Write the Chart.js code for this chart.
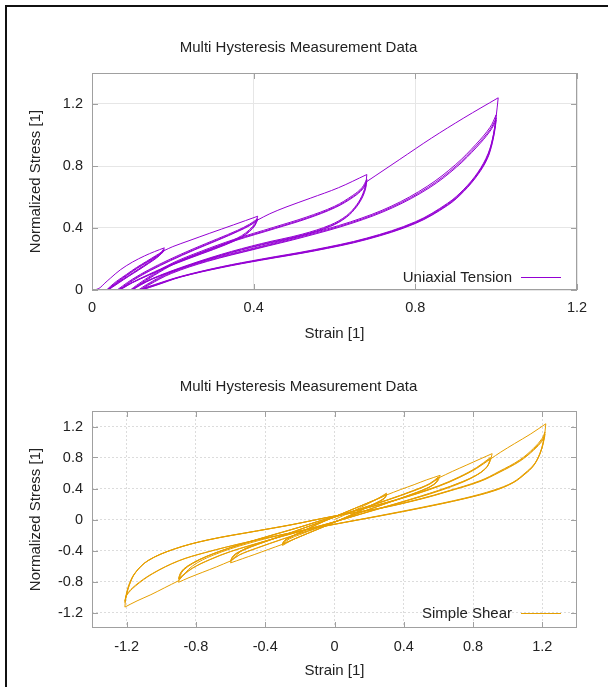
<!DOCTYPE html>
<html>
<head>
<meta charset="utf-8">
<script src="https://cdn.jsdelivr.net/npm/chart.js@4.4.1/dist/chart.umd.min.js"></script>
<style>
  html, body { margin: 0; background: #fff; }
  #wrap { position: relative; width: 608px; height: 687px; overflow: hidden; background: #fff; }
  .edge { position: absolute; background: #111; }
  canvas { position: absolute; left: 0; }
</style>
</head>
<body>
<div id="wrap">
  <div class="edge" style="left:5px;top:5px;width:603px;height:2px"></div>
  <div class="edge" style="left:5px;top:5px;width:2px;height:682px"></div>
  <canvas id="tension" width="608" height="350" style="top:0"></canvas>
  <canvas id="shear" width="608" height="337" style="top:350px"></canvas>
</div>
<script>
// ---- axis ticks ----
const tensionStrainTicks = [0, 0.4, 0.8, 1.2];
const tensionStrainLabels = ['0', '0.4', '0.8', '1.2'];
const tensionStressTicks = [0, 0.4, 0.8, 1.2];
const tensionStressLabels = ['0', '0.4', '0.8', '1.2'];
const shearTicks = [-1.2, -0.8, -0.4, 0, 0.4, 0.8, 1.2];
const shearLabels = ['-1.2', '-0.8', '-0.4', '0', '0.4', '0.8', '1.2'];

// ---- uniaxial tension: [strain, stress] branches, in test order ----
// level 1 (max strain ~0.18): virgin, 3 unload/reload cycles, then envelope to level 2
const tensionLevel1 = [
  [[0,0],[0.01,0.003],[0.02,0.015],[0.03,0.04],[0.045,0.075],[0.07,0.13],[0.1,0.18],[0.13,0.22],[0.155,0.248],[0.179,0.272]],
  [[0.179,0.272],[0.172,0.245],[0.16,0.215],[0.14,0.178],[0.115,0.135],[0.09,0.092],[0.065,0.05],[0.048,0.02],[0.036,0]],
  [[0.036,0],[0.045,0.022],[0.06,0.055],[0.085,0.1],[0.11,0.145],[0.135,0.185],[0.158,0.222],[0.172,0.245],[0.179,0.262]],
  [[0.179,0.262],[0.172,0.238],[0.16,0.21],[0.14,0.174],[0.115,0.131],[0.09,0.089],[0.066,0.048],[0.05,0.02],[0.038,0]],
  [[0.038,0],[0.047,0.021],[0.062,0.053],[0.086,0.097],[0.111,0.142],[0.136,0.182],[0.159,0.219],[0.173,0.242],[0.179,0.258]],
  [[0.179,0.258],[0.172,0.235],[0.16,0.207],[0.14,0.171],[0.115,0.128],[0.09,0.087],[0.067,0.047],[0.051,0.019],[0.04,0]],
  [[0.04,0],[0.049,0.02],[0.064,0.052],[0.087,0.095],[0.112,0.14],[0.137,0.18],[0.16,0.217],[0.174,0.24],[0.18,0.256]],
  [[0.18,0.256],[0.2,0.28],[0.24,0.318],[0.29,0.365],[0.35,0.42],[0.41,0.476]]
];
// level 2 (max strain ~0.41)
const tensionLevel2 = [
  [[0.41,0.476],[0.403,0.43],[0.39,0.39],[0.37,0.35],[0.33,0.3],[0.27,0.24],[0.2,0.17],[0.14,0.1],[0.1,0.05],[0.075,0.015],[0.062,0]],
  [[0.062,0],[0.075,0.025],[0.1,0.07],[0.14,0.13],[0.19,0.195],[0.25,0.265],[0.31,0.33],[0.36,0.385],[0.39,0.425],[0.41,0.46]],
  [[0.41,0.46],[0.403,0.42],[0.39,0.382],[0.37,0.343],[0.33,0.294],[0.27,0.235],[0.2,0.166],[0.14,0.097],[0.1,0.048],[0.077,0.015],[0.065,0]],
  [[0.065,0],[0.078,0.024],[0.102,0.068],[0.142,0.127],[0.192,0.191],[0.252,0.261],[0.312,0.326],[0.361,0.381],[0.391,0.42],[0.41,0.455]],
  [[0.41,0.455],[0.403,0.415],[0.39,0.378],[0.37,0.34],[0.33,0.291],[0.27,0.232],[0.2,0.163],[0.14,0.095],[0.1,0.047],[0.079,0.015],[0.068,0]],
  [[0.068,0],[0.08,0.023],[0.104,0.066],[0.144,0.125],[0.194,0.189],[0.254,0.259],[0.314,0.324],[0.362,0.379],[0.392,0.418],[0.41,0.452]],
  [[0.41,0.452],[0.44,0.492],[0.48,0.535],[0.54,0.592],[0.61,0.66],[0.68,0.745]]
];
// level 3 (max strain ~0.68)
const tensionLevel3 = [
  [[0.68,0.745],[0.677,0.68],[0.67,0.62],[0.655,0.55],[0.63,0.48],[0.59,0.42],[0.52,0.36],[0.42,0.3],[0.32,0.23],[0.22,0.145],[0.15,0.075],[0.115,0.03],[0.095,0]],
  [[0.095,0],[0.11,0.03],[0.15,0.1],[0.2,0.175],[0.27,0.25],[0.35,0.325],[0.45,0.405],[0.53,0.47],[0.6,0.54],[0.645,0.61],[0.668,0.66],[0.68,0.715]],
  [[0.68,0.715],[0.677,0.665],[0.67,0.61],[0.655,0.543],[0.63,0.474],[0.59,0.414],[0.52,0.355],[0.42,0.295],[0.32,0.226],[0.22,0.142],[0.15,0.073],[0.117,0.03],[0.098,0]],
  [[0.098,0],[0.113,0.029],[0.153,0.098],[0.203,0.172],[0.273,0.247],[0.352,0.321],[0.452,0.4],[0.532,0.465],[0.601,0.535],[0.646,0.604],[0.669,0.655],[0.68,0.705]],
  [[0.68,0.705],[0.677,0.655],[0.67,0.603],[0.655,0.538],[0.63,0.47],[0.59,0.41],[0.52,0.351],[0.42,0.291],[0.32,0.223],[0.22,0.14],[0.15,0.071],[0.119,0.03],[0.1,0]],
  [[0.1,0],[0.115,0.028],[0.155,0.096],[0.205,0.17],[0.275,0.245],[0.354,0.318],[0.454,0.397],[0.534,0.462],[0.602,0.532],[0.647,0.6],[0.67,0.652],[0.68,0.7]],
  [[0.68,0.7],[0.76,0.84],[0.84,0.98],[0.92,1.11],[1.005,1.24]]
];
// level 4 (max strain ~1.0)
const tensionLevel4 = [
  [[1.005,1.24],[1.0,1.12],[0.993,1.0],[0.98,0.88],[0.955,0.76],[0.92,0.65],[0.88,0.56],[0.8,0.44],[0.68,0.335],[0.55,0.26],[0.42,0.2],[0.32,0.15],[0.22,0.088],[0.155,0.035],[0.115,0]],
  [[0.115,0],[0.135,0.035],[0.19,0.11],[0.28,0.19],[0.4,0.27],[0.52,0.35],[0.64,0.44],[0.74,0.54],[0.83,0.67],[0.9,0.81],[0.95,0.94],[0.985,1.05],[1.0,1.13]],
  [[1.0,1.13],[0.997,1.06],[0.99,0.96],[0.978,0.86],[0.955,0.755],[0.92,0.645],[0.88,0.555],[0.8,0.436],[0.68,0.332],[0.55,0.257],[0.42,0.197],[0.32,0.148],[0.22,0.086],[0.157,0.034],[0.118,0]],
  [[0.118,0],[0.138,0.034],[0.193,0.108],[0.283,0.187],[0.403,0.267],[0.523,0.346],[0.643,0.436],[0.742,0.535],[0.832,0.663],[0.901,0.8],[0.951,0.93],[0.985,1.035],[1.0,1.11]],
  [[1.0,1.11],[0.997,1.045],[0.99,0.95],[0.978,0.852],[0.955,0.75],[0.92,0.64],[0.88,0.55],[0.8,0.432],[0.68,0.329],[0.55,0.254],[0.42,0.195],[0.32,0.146],[0.22,0.085],[0.159,0.033],[0.121,0]],
  [[0.121,0],[0.141,0.033],[0.196,0.106],[0.286,0.185],[0.406,0.265],[0.526,0.343],[0.646,0.433],[0.744,0.531],[0.834,0.658],[0.902,0.793],[0.952,0.922],[0.985,1.025],[1.0,1.095]],
  [[1.0,1.095],[0.997,1.035],[0.99,0.943],[0.978,0.846],[0.955,0.745],[0.92,0.636],[0.88,0.546],[0.8,0.429],[0.68,0.326],[0.55,0.252],[0.42,0.193],[0.32,0.144],[0.22,0.084],[0.161,0.032],[0.123,0]]
];

// ---- simple shear: [strain, stress] branches, in test order ----
// level 1 (±0.3)
const shearLevel1 = [
  [[0,0],[0.05,0.05],[0.1,0.1],[0.15,0.155],[0.2,0.21],[0.25,0.27],[0.3,0.34]],
  [[0.3,0.34],[0.295,0.3],[0.28,0.265],[0.24,0.215],[0.18,0.15],[0.1,0.065],[0.02,-0.015],[-0.06,-0.09],[-0.14,-0.165],[-0.2,-0.222],[-0.25,-0.272],[-0.3,-0.335]],
  [[-0.3,-0.335],[-0.295,-0.3],[-0.28,-0.265],[-0.24,-0.215],[-0.18,-0.15],[-0.1,-0.065],[-0.02,0.015],[0.06,0.09],[0.14,0.165],[0.2,0.222],[0.25,0.27],[0.3,0.325]],
  [[0.3,0.325],[0.295,0.292],[0.28,0.26],[0.24,0.212],[0.18,0.148],[0.1,0.063],[0.02,-0.017],[-0.06,-0.092],[-0.14,-0.166],[-0.2,-0.222],[-0.25,-0.27],[-0.3,-0.322]],
  [[-0.3,-0.322],[-0.295,-0.29],[-0.28,-0.258],[-0.24,-0.21],[-0.18,-0.146],[-0.1,-0.062],[-0.02,0.017],[0.06,0.091],[0.14,0.165],[0.2,0.221],[0.25,0.267],[0.3,0.32]],
  [[0.3,0.32],[0.295,0.288],[0.28,0.257],[0.24,0.21],[0.18,0.146],[0.1,0.061],[0.02,-0.018],[-0.06,-0.093],[-0.14,-0.166],[-0.2,-0.221],[-0.25,-0.268],[-0.3,-0.318]],
  [[-0.3,-0.318],[-0.295,-0.287],[-0.28,-0.256],[-0.24,-0.208],[-0.18,-0.145],[-0.1,-0.061],[-0.02,0.017],[0.06,0.09],[0.14,0.164],[0.2,0.219],[0.25,0.265],[0.3,0.316]],
  [[0.3,0.316],[0.38,0.385],[0.46,0.45],[0.53,0.51],[0.61,0.57]]
];
// level 2 (±0.6)
const shearLevel2 = [
  [[0.61,0.57],[0.6,0.51],[0.58,0.46],[0.53,0.4],[0.45,0.33],[0.3,0.21],[0.15,0.09],[0,-0.03],[-0.1,-0.11],[-0.2,-0.195],[-0.26,-0.25],[-0.3,-0.32]],
  [[-0.3,-0.32],[-0.38,-0.385],[-0.46,-0.45],[-0.53,-0.505],[-0.6,-0.56]],
  [[-0.6,-0.56],[-0.59,-0.5],[-0.57,-0.45],[-0.52,-0.39],[-0.44,-0.32],[-0.3,-0.21],[-0.15,-0.09],[0,0.03],[0.15,0.14],[0.3,0.25],[0.45,0.37],[0.55,0.465],[0.6,0.55]],
  [[0.6,0.55],[0.59,0.495],[0.57,0.45],[0.52,0.39],[0.44,0.32],[0.3,0.21],[0.15,0.092],[0,-0.032],[-0.15,-0.145],[-0.3,-0.255],[-0.45,-0.372],[-0.55,-0.46],[-0.6,-0.54]],
  [[-0.6,-0.54],[-0.59,-0.488],[-0.57,-0.443],[-0.52,-0.385],[-0.44,-0.317],[-0.3,-0.208],[-0.15,-0.089],[0,0.03],[0.15,0.138],[0.3,0.247],[0.45,0.366],[0.55,0.46],[0.6,0.54]],
  [[0.6,0.54],[0.59,0.488],[0.57,0.444],[0.52,0.386],[0.44,0.317],[0.3,0.208],[0.15,0.09],[0,-0.031],[-0.15,-0.143],[-0.3,-0.252],[-0.45,-0.368],[-0.55,-0.456],[-0.6,-0.535]],
  [[-0.6,-0.535],[-0.59,-0.485],[-0.57,-0.44],[-0.52,-0.383],[-0.44,-0.315],[-0.3,-0.207],[-0.15,-0.088],[0,0.029],[0.15,0.137],[0.3,0.245],[0.45,0.363],[0.55,0.456],[0.6,0.535]],
  [[0.6,0.535],[0.68,0.62],[0.76,0.7],[0.84,0.78],[0.91,0.85]]
];
// level 3 (±0.9)
const shearLevel3 = [
  [[0.91,0.85],[0.9,0.76],[0.88,0.68],[0.84,0.6],[0.76,0.5],[0.6,0.365],[0.4,0.23],[0.2,0.1],[0,-0.03],[-0.2,-0.15],[-0.4,-0.28],[-0.52,-0.38],[-0.6,-0.535]],
  [[-0.6,-0.535],[-0.68,-0.61],[-0.76,-0.68],[-0.84,-0.75],[-0.9,-0.81]],
  [[-0.9,-0.81],[-0.89,-0.72],[-0.87,-0.65],[-0.82,-0.57],[-0.74,-0.48],[-0.6,-0.365],[-0.4,-0.23],[-0.2,-0.1],[0,0.04],[0.2,0.16],[0.4,0.285],[0.6,0.435],[0.72,0.55],[0.82,0.67],[0.9,0.8]],
  [[0.9,0.8],[0.89,0.72],[0.87,0.655],[0.82,0.575],[0.74,0.49],[0.6,0.375],[0.4,0.235],[0.2,0.105],[0,-0.03],[-0.2,-0.155],[-0.4,-0.28],[-0.6,-0.415],[-0.72,-0.52],[-0.82,-0.63],[-0.9,-0.77]],
  [[-0.9,-0.77],[-0.89,-0.7],[-0.87,-0.64],[-0.82,-0.565],[-0.74,-0.478],[-0.6,-0.363],[-0.4,-0.228],[-0.2,-0.098],[0,0.04],[0.2,0.158],[0.4,0.282],[0.6,0.43],[0.72,0.545],[0.82,0.664],[0.9,0.79]],
  [[0.9,0.79],[0.89,0.713],[0.87,0.65],[0.82,0.571],[0.74,0.487],[0.6,0.372],[0.4,0.233],[0.2,0.103],[0,-0.031],[-0.2,-0.154],[-0.4,-0.278],[-0.6,-0.412],[-0.72,-0.516],[-0.82,-0.626],[-0.9,-0.76]],
  [[-0.9,-0.76],[-0.89,-0.694],[-0.87,-0.636],[-0.82,-0.562],[-0.74,-0.476],[-0.6,-0.361],[-0.4,-0.226],[-0.2,-0.097],[0,0.039],[0.2,0.156],[0.4,0.279],[0.6,0.426],[0.72,0.54],[0.82,0.658],[0.9,0.78]],
  [[0.9,0.78],[0.96,0.87],[1.04,0.98],[1.13,1.1],[1.22,1.235]]
];
// level 4 (±1.2)
const shearLevel4 = [
  [[1.22,1.235],[1.21,1.05],[1.19,0.87],[1.155,0.72],[1.1,0.6],[1.03,0.48],[0.92,0.38],[0.75,0.275],[0.5,0.155],[0.25,0.045],[0,-0.06],[-0.25,-0.17],[-0.5,-0.31],[-0.7,-0.46],[-0.82,-0.6],[-0.9,-0.79]],
  [[-0.9,-0.79],[-0.98,-0.88],[-1.06,-0.97],[-1.14,-1.05],[-1.21,-1.13]],
  [[-1.21,-1.13],[-1.205,-1.0],[-1.19,-0.86],[-1.155,-0.7],[-1.08,-0.535],[-0.93,-0.385],[-0.73,-0.265],[-0.45,-0.15],[-0.25,-0.07],[0,0.045],[0.27,0.15],[0.5,0.27],[0.65,0.365],[0.84,0.5],[0.95,0.62],[1.07,0.77],[1.15,0.92],[1.2,1.05],[1.215,1.13]],
  [[1.215,1.13],[1.205,1.0],[1.185,0.85],[1.15,0.7],[1.1,0.59],[1.03,0.475],[0.92,0.372],[0.75,0.27],[0.5,0.15],[0.25,0.042],[0,-0.062],[-0.25,-0.172],[-0.5,-0.29],[-0.75,-0.43],[-0.9,-0.535],[-1.05,-0.7],[-1.15,-0.86],[-1.2,-0.98],[-1.21,-1.07]],
  [[-1.21,-1.07],[-1.2,-0.97],[-1.185,-0.85],[-1.15,-0.69],[-1.075,-0.53],[-0.925,-0.382],[-0.73,-0.263],[-0.45,-0.148],[-0.25,-0.068],[0,0.045],[0.27,0.148],[0.5,0.267],[0.65,0.361],[0.84,0.495],[0.95,0.612],[1.07,0.76],[1.15,0.905],[1.2,1.03],[1.215,1.1]],
  [[1.215,1.1],[1.205,0.98],[1.185,0.84],[1.15,0.695],[1.1,0.586],[1.03,0.472],[0.92,0.369],[0.75,0.268],[0.5,0.148],[0.25,0.04],[0,-0.063],[-0.25,-0.172],[-0.5,-0.289],[-0.75,-0.428],[-0.9,-0.532],[-1.05,-0.695],[-1.15,-0.85],[-1.2,-0.97],[-1.21,-1.05]],
  [[-1.21,-1.05],[-1.2,-0.96],[-1.185,-0.845],[-1.15,-0.686],[-1.075,-0.527],[-0.925,-0.38],[-0.73,-0.262],[-0.45,-0.147],[-0.25,-0.067],[0,0.044],[0.27,0.146],[0.5,0.264],[0.65,0.358],[0.84,0.49],[0.95,0.606],[1.07,0.752],[1.15,0.895],[1.2,1.015],[1.215,1.08]]
];

const FONT = '"Liberation Sans", Arial, Helvetica, sans-serif';
const TEXT = '#222';
const PURPLE = '#9400D3';
const ORANGE = '#E69F00';

// gnuplot-like frame: full border, inward ticks on all sides, legend inside bottom-right
function framePlugin(label, swatch, legendOffset) {
  return {
    id: 'plotFrame',
    afterDatasetsDraw(chart) {
      const { ctx, chartArea: a, scales: { x, y } } = chart;
      ctx.save();
      ctx.strokeStyle = '#a0a0a0';
      ctx.lineWidth = 1;
      ctx.strokeRect(a.left + 0.5, a.top + 0.5, a.width - 1, a.height - 1);
      ctx.beginPath();
      x.ticks.forEach(t => {
        const px = Math.round(x.getPixelForValue(t.value)) + 0.5;
        ctx.moveTo(px, a.bottom); ctx.lineTo(px, a.bottom - 6);
        ctx.moveTo(px, a.top); ctx.lineTo(px, a.top + 6);
      });
      y.ticks.forEach(t => {
        const py = Math.round(y.getPixelForValue(t.value)) + 0.5;
        ctx.moveTo(a.left, py); ctx.lineTo(a.left + 6, py);
        ctx.moveTo(a.right, py); ctx.lineTo(a.right - 6, py);
      });
      ctx.stroke();

      const ly = Math.round(a.bottom - legendOffset);
      ctx.font = '15px ' + FONT;
      ctx.fillStyle = TEXT;
      ctx.textAlign = 'right';
      ctx.textBaseline = 'middle';
      ctx.fillText(label, a.right - 65, ly + 0.5);
      ctx.fillStyle = swatch;
      ctx.fillRect(a.right - 56, ly, 40, 1);
      ctx.restore();
    }
  };
}

function toDatasets(levels, color) {
  return levels.flat().map(branch => ({
    data: branch.map(([x, y]) => ({ x, y })),
    borderColor: color,
    borderWidth: 1,
    pointRadius: 0,
    showLine: true,
    fill: false,
    tension: 0.35
  }));
}

function axis(o) {
  return {
    type: 'linear',
    min: o.min,
    max: o.max,
    afterBuildTicks: s => { s.ticks = o.ticks.map(v => ({ value: v })); },
    afterFit: o.fit,
    grid: { color: o.gridColor, drawTicks: false },
    border: { display: false, dash: o.dash },
    ticks: {
      padding: o.pad,
      autoSkip: false,
      maxRotation: 0,
      color: TEXT,
      font: { family: FONT, size: 14.5 },
      callback: (v, i) => o.labels[i]
    },
    title: {
      display: true,
      text: o.title,
      color: TEXT,
      font: { family: FONT, size: 15 },
      padding: o.titlePad
    }
  };
}

function makeChart(id, o) {
  return new Chart(document.getElementById(id), {
    type: 'scatter',
    data: { datasets: toDatasets(o.levels, o.color) },
    options: {
      responsive: false,
      animation: false,
      events: [],
      layout: { padding: { left: 20, right: 31, top: 0, bottom: 7 } },
      plugins: {
        legend: { display: false },
        tooltip: { enabled: false },
        title: {
          display: true,
          text: 'Multi Hysteresis Measurement Data',
          color: TEXT,
          font: { family: FONT, size: 15, weight: 'normal' },
          padding: o.titlePad
        }
      },
      scales: {
        x: axis({
          min: o.xMin, max: o.xMax, ticks: o.xTicks, labels: o.xLabels,
          fit: s => { s.height = o.xHeight; }, gridColor: o.gridColor, dash: o.dash,
          pad: o.xPad, title: 'Strain [1]', titlePad: { top: 0, bottom: 0 }
        }),
        y: axis({
          min: o.yMin, max: o.yMax, ticks: o.yTicks, labels: o.yLabels,
          fit: s => { s.width = 72; }, gridColor: o.gridColor, dash: o.dash,
          pad: 9, title: 'Normalized Stress [1]', titlePad: { top: 7, bottom: 0 }
        })
      }
    },
    plugins: [framePlugin(o.label, o.color, o.legendOffset)]
  });
}

makeChart('tension', {
  levels: [tensionLevel1, tensionLevel2, tensionLevel3, tensionLevel4],
  color: PURPLE,
  label: 'Uniaxial Tension',
  legendOffset: 13,
  titlePad: { top: 39, bottom: 16 },
  xMin: 0, xMax: 1.2, xTicks: tensionStrainTicks, xLabels: tensionStrainLabels,
  yMin: 0, yMax: 1.4, yTicks: tensionStressTicks, yLabels: tensionStressLabels,
  xHeight: 53, xPad: 9,
  gridColor: '#e6e6e6', dash: []
});

makeChart('shear', {
  levels: [shearLevel1, shearLevel2, shearLevel3, shearLevel4],
  color: ORANGE,
  label: 'Simple Shear',
  legendOffset: 15,
  titlePad: { top: 28, bottom: 15 },
  xMin: -1.4, xMax: 1.4, xTicks: shearTicks, xLabels: shearLabels,
  yMin: -1.4, yMax: 1.4, yTicks: shearTicks, yLabels: shearLabels,
  xHeight: 52, xPad: 10,
  gridColor: '#dcdcdc', dash: [2, 2]
});
</script>
</body>
</html>
